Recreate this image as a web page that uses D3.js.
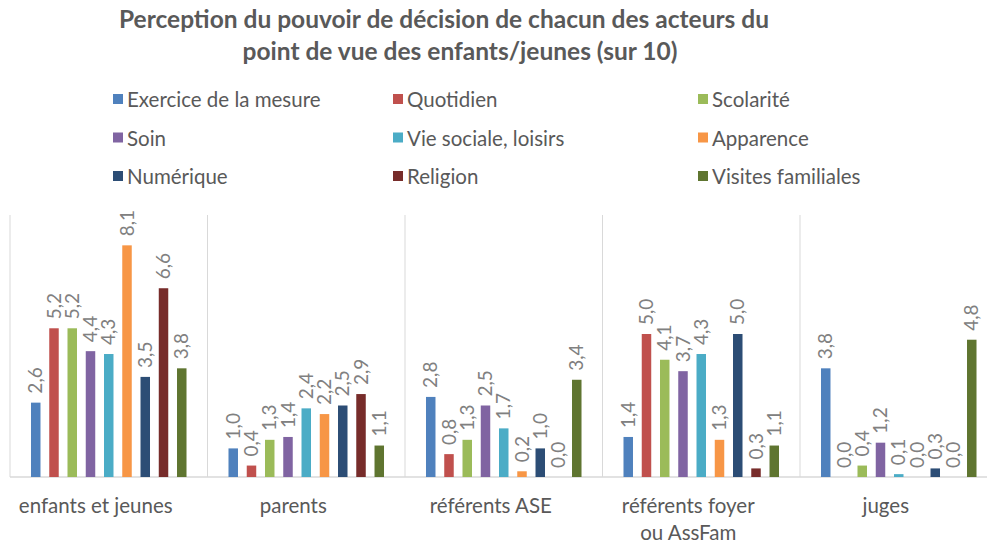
<!DOCTYPE html>
<html>
<head>
<meta charset="utf-8">
<script src="https://cdn.jsdelivr.net/npm/d3@7"></script>
<style>
  body { margin: 0; background: #fff; }
  svg text { font-family: Lato, "Open Sans", sans-serif; }
</style>
</head>
<body>
<div id="chart"></div>
<script>
// Chart data
let categories = ['enfants et jeunes', 'parents', 'référents ASE', 'référents foyer|ou AssFam', 'juges'];
let series = ['Exercice de la mesure', 'Quotidien', 'Scolarité', 'Soin', 'Vie sociale, loisirs',
    'Apparence', 'Numérique', 'Religion', 'Visites familiales'];
let colors = ['#4f81bd', '#c0504d', '#9bbb59', '#8064a2', '#4bacc6', '#f79646', '#2c4d75', '#772c2a', '#5f7530'];

// one array per actor, in series order
let enfants = [2.6, 5.2, 5.2, 4.4, 4.3, 8.1, 3.5, 6.6, 3.8];
let parents = [1.0, 0.4, 1.3, 1.4, 2.4, 2.2, 2.5, 2.9, 1.1];
let referentsASE = [2.8, 0.8, 1.3, 2.5, 1.7, 0.2, 1.0, 0.0, 3.4];
let referentsFoyer = [1.4, 5.0, 4.1, 3.7, 4.3, 1.3, 5.0, 0.3, 1.1];
let juges = [3.8, 0.0, 0.4, 1.2, 0.1, 0.0, 0.3, 0.0, 4.8];
let values = [enfants, parents, referentsASE, referentsFoyer, juges];

let titleLines = ['Perception du pouvoir de décision de chacun des acteurs du',
    'point de vue des enfants/jeunes (sur 10)'];

let svgWidth = 987;
let svgHeight = 545;

let svg = d3.select('#chart')
    .append('svg')
    .attr('width', svgWidth)
    .attr('height', svgHeight);

// plot area (right side is cut by the picture edge, like the original)
let plot = { left: 10, top: 215, bottom: 477, bandW: 197.5 };

let x0 = d3.scaleBand()
    .domain(categories)
    .range([plot.left, plot.left + plot.bandW * categories.length])
    .padding(0);

let x1 = d3.scaleBand()
    .domain(series)
    .range([0, x0.bandwidth()])
    .paddingInner(0.48)
    .paddingOuter(1.15);

let y = d3.scaleLinear()
    .domain([0, 10])
    .range([plot.bottom, plot.bottom - 286]);

let color = d3.scaleOrdinal().domain(series).range(colors);

// title
svg.append('g').selectAll('text')
    .data(titleLines)
    .enter()
    .append('text')
    .attr('x', (d, i) => i === 0 ? 444 : 460)
    .attr('y', (d, i) => 28 + i * 32)
    .attr('text-anchor', 'middle')
    .attr('font-size', 24.5)
    .attr('font-weight', 'bold')
    .attr('fill', '#595959')
    .text(d => d);

// legend, 3 columns
let legendCols = [113, 393, 698];
let legend = svg.append('g').selectAll('g')
    .data(series)
    .enter()
    .append('g')
    .attr('transform', (d, i) => `translate(${legendCols[i % 3]}, ${100 + Math.floor(i / 3) * 38.5})`);

legend.append('rect')
    .attr('x', 0)
    .attr('y', -6)
    .attr('width', 10)
    .attr('height', 10)
    .attr('fill', d => color(d));

legend.append('text')
    .attr('x', 14)
    .attr('y', 0)
    .attr('dy', '0.35em')
    .attr('font-size', 20.5)
    .attr('fill', '#595959')
    .text(d => d);

// separators between groups + baseline
let grid = svg.append('g');
let bounds = categories.map(c => x0(c));
grid.selectAll('line.sep')
    .data(bounds)
    .enter()
    .append('line')
    .attr('class', 'sep')
    .attr('x1', d => d).attr('x2', d => d)
    .attr('y1', plot.top).attr('y2', plot.bottom)
    .attr('stroke', '#d9d9d9')
    .attr('stroke-width', 1);

grid.append('line')
    .attr('x1', plot.left).attr('x2', svgWidth)
    .attr('y1', plot.bottom).attr('y2', plot.bottom)
    .attr('stroke', '#d9d9d9')
    .attr('stroke-width', 1.5);

// bars
let groups = svg.append('g').selectAll('g')
    .data(categories)
    .enter()
    .append('g')
    .attr('transform', d => `translate(${x0(d)}, 0)`);

let cells = groups.selectAll('g')
    .data((d, ci) => series.map((s, si) => ({ s: s, v: values[ci][si] })))
    .enter()
    .append('g');

cells.append('rect')
    .attr('x', d => x1(d.s))
    .attr('y', d => y(d.v))
    .attr('width', x1.bandwidth())
    .attr('height', d => y(0) - y(d.v))
    .attr('fill', d => color(d.s));

cells.append('text')
    .attr('transform', d => `translate(${x1(d.s) + x1.bandwidth() / 2}, ${y(d.v) - 9}) rotate(-90)`)
    .attr('dy', '0.35em')
    .attr('font-size', 19)
    .attr('fill', '#808080')
    .text(d => d.v.toFixed(1).replace('.', ','));

// category labels
let catLabels = svg.append('g').selectAll('text')
    .data(categories)
    .enter()
    .append('text')
    .attr('x', d => x0(d) + x0.bandwidth() / 2 - 13)
    .attr('y', 513)
    .attr('text-anchor', 'middle')
    .attr('font-size', 20.5)
    .attr('fill', '#595959');

catLabels.selectAll('tspan')
    .data(d => d.split('|'))
    .enter()
    .append('tspan')
    .attr('x', function() { return d3.select(this.parentNode).attr('x'); })
    .attr('dy', (d, i) => i === 0 ? 0 : 27)
    .text(d => d);
</script>
</body>
</html>
